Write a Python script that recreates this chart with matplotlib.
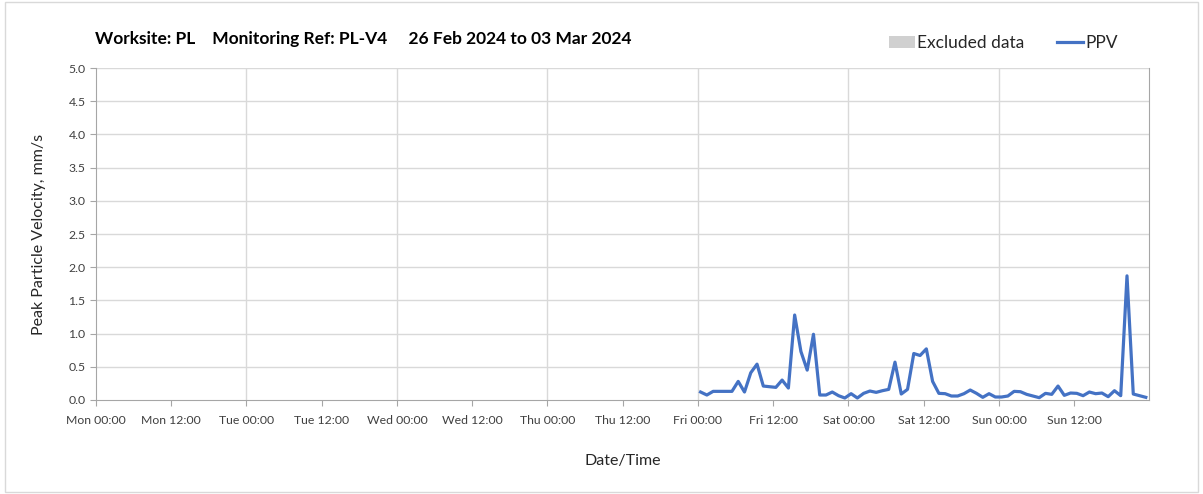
import numpy as np
import pandas as pd
import matplotlib
matplotlib.use("Agg")
import matplotlib.pyplot as plt
from matplotlib.patches import Rectangle
from matplotlib.lines import Line2D

plt.rcParams['font.family'] = ['Lato', 'DejaVu Sans']

# hourly PPV readings from Fri 01 Mar 2024 00:25
ppv = [0.12, 0.075, 0.13, 0.13, 0.13, 0.13, 0.28, 0.12, 0.41, 0.54,
       0.21, 0.20, 0.19, 0.30, 0.18, 1.28, 0.73, 0.45, 0.99, 0.075,
       0.075, 0.12, 0.065, 0.03, 0.095, 0.03, 0.10, 0.135, 0.115, 0.14,
       0.16, 0.57, 0.09, 0.16, 0.70, 0.67, 0.77, 0.28, 0.10, 0.095,
       0.06, 0.06, 0.095, 0.15, 0.10, 0.04, 0.095, 0.045, 0.045, 0.06,
       0.13, 0.125, 0.085, 0.06, 0.035, 0.10, 0.085, 0.21, 0.07, 0.105,
       0.10, 0.065, 0.12, 0.095, 0.105, 0.05, 0.14, 0.065, 1.87, 0.09,
       0.065, 0.04]
times = pd.date_range("2024-03-01 00:25", periods=len(ppv), freq="h")

start = pd.Timestamp("2024-02-26 00:00")
end = pd.Timestamp("2024-03-04 00:00")
tick_times = pd.date_range(start, pd.Timestamp("2024-03-03 12:00"), freq="12h")
tick_labels = [t.strftime("%a %H:%M") for t in tick_times]
day_lines = pd.date_range(start, end, freq="D")

fig = plt.figure(figsize=(12.03, 4.94), dpi=100)
ax = fig.add_axes([0.0798, 0.1903, 0.8757, 0.672])

fig.patches.append(Rectangle((0.004, 0.004), 0.992, 0.992, transform=fig.transFigure,
                             fill=False, edgecolor="#d9d9d9", linewidth=1))

grid_c = "#d9d9d9"
for y in np.arange(0.5, 5.01, 0.5):
    ax.axhline(y, color=grid_c, lw=1, zorder=0)
for d in day_lines[1:-1]:
    ax.axvline(d, color=grid_c, lw=1, zorder=0)

ax.plot(times, ppv, color="#4472C4", lw=2.3, zorder=3)

ax.set_xlim(start, end)
ax.set_ylim(0, 5)
ax.set_yticks(np.arange(0, 5.01, 0.5))
ax.set_yticklabels([f"{v:.1f}" for v in np.arange(0, 5.01, 0.5)])
ax.set_xticks(tick_times)
ax.set_xticklabels(tick_labels)

for s in ["left", "bottom", "right"]:
    ax.spines[s].set_color("#a6a6a6")
ax.spines["top"].set_visible(False)
ax.tick_params(axis="both", colors="#a6a6a6", labelcolor="#404040", labelsize=8.8, length=4)
ax.tick_params(axis="x", pad=7)

ax.set_xlabel("Date/Time", fontsize=11.5, color="#262626", labelpad=20)
ax.set_ylabel("Peak Particle Velocity, mm/s", fontsize=11.5, color="#262626", labelpad=16)

fig.text(0.079, 0.922, "Worksite: PL    Monitoring Ref: PL-V4     26 Feb 2024 to 03 Mar 2024",
         fontsize=12.5, fontweight="bold", color="#000000", va="center")

handles = [Rectangle((0, 0), 1, 1, facecolor="#d0d0d0", edgecolor="none"),
           Line2D([0], [0], color="#4472C4", lw=2.3)]
fig.legend(handles, ["Excluded data", "PPV"], loc="center", bbox_to_anchor=(0.834, 0.913),
           ncol=2, frameon=False, fontsize=12.5, handlelength=1.5, handletextpad=0.1,
           columnspacing=1.9, labelcolor="#262626")

fig.savefig("out.png", dpi=100)
